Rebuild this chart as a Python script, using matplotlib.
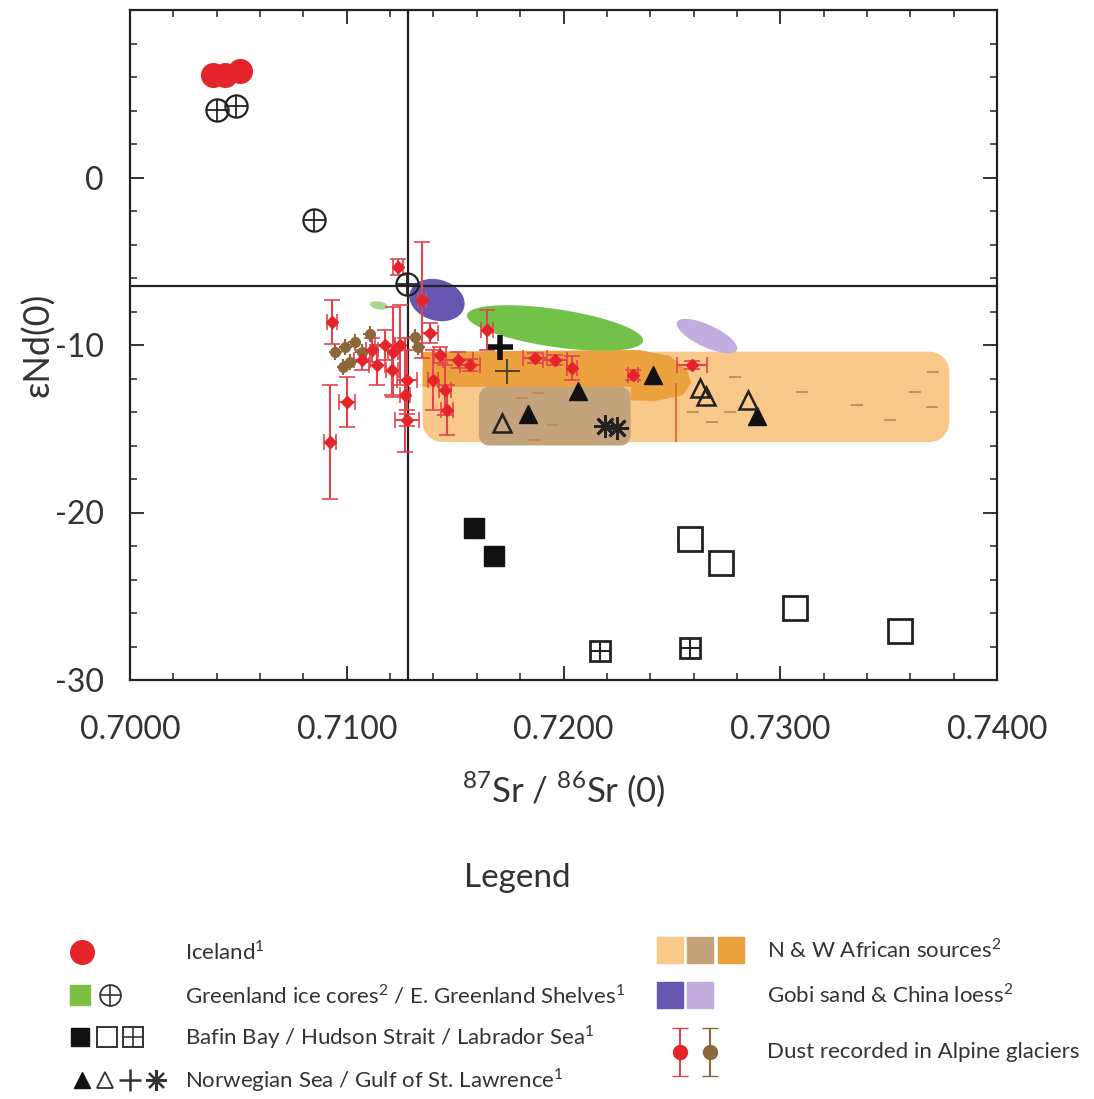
import numpy as np
import matplotlib
matplotlib.use('Agg')
import matplotlib.pyplot as plt
from matplotlib.patches import Polygon
from matplotlib.ticker import MultipleLocator

plt.rcParams['font.family'] = ['Lato', 'DejaVu Sans']
plt.rcParams['mathtext.fontset'] = 'custom'
plt.rcParams['mathtext.rm'] = 'Lato'
plt.rcParams['axes.unicode_minus'] = False

# reference lines (Sr ratio, eNd)
ref_sr = 0.71283
ref_nd = -6.45

# Iceland
iceland_sr = [0.70383, 0.70438, 0.70508]
iceland_nd = [6.12, 6.12, 6.36]

# E. Greenland shelves (circle plus)
egs_sr = [0.70401, 0.70489, 0.70849, 0.71278]
egs_nd = [4.03, 4.27, -2.54, -6.36]

# Bafin Bay / Hudson Strait / Labrador Sea
bafin_sr = [0.71587, 0.71679]
bafin_nd = [-20.93, -22.60]
hudson_sr = [0.72584, 0.72727, 0.73068, 0.73553]
hudson_nd = [-21.58, -23.01, -25.70, -27.07]
labrador_sr = [0.72168, 0.72584]
labrador_nd = [-28.27, -28.09]

# Norwegian Sea / Gulf of St. Lawrence
norw_filled_sr = [0.71836, 0.72067, 0.72413, 0.72893]
norw_filled_nd = [-14.12, -12.75, -11.79, -14.24]
norw_open_sr = [0.71716, 0.72630, 0.72657, 0.72851]
norw_open_nd = [-14.66, -12.57, -13.04, -13.28]
gulf_thick_sr = [0.71707]
gulf_thick_nd = [-10.12]
gulf_thin_sr = [0.71739]
gulf_thin_nd = [-11.55]
gulf_star_sr = [0.72191, 0.72247]
gulf_star_nd = [-14.84, -14.96]

# Alpine glacier dust (red) with errors
dust_sr = [0.70932, 0.71001, 0.70923, 0.71116, 0.71176, 0.71070, 0.71140, 0.71209,
           0.71213, 0.71246, 0.71269, 0.71278, 0.71278, 0.71347, 0.71384, 0.71236,
           0.71398, 0.71453, 0.71462, 0.71430, 0.71513, 0.71569, 0.71647, 0.71868,
           0.71961, 0.72039, 0.72321, 0.72593]
dust_nd = [-8.63, -13.40, -15.79, -10.30, -10.00, -10.90, -11.19, -11.49,
           -10.42, -10.00, -12.99, -14.48, -12.09, -7.31, -9.28, -5.34,
           -12.09, -12.69, -13.88, -10.60, -10.90, -11.19, -9.10, -10.78,
           -10.90, -11.37, -11.79, -11.19]
dust_sr_err = [0.00023, 0.00037, 0.00028, 0.00028, 0.00046, 0.00037, 0.00037, 0.00028,
               0.00023, 0.00023, 0.00023, 0.00055, 0.00046, 0.00018, 0.00037, 0.00023,
               0.00023, 0.00028, 0.00028, 0.00028, 0.00069, 0.00046, 0.00028, 0.00055,
               0.00055, 0.00023, 0.00023, 0.00069]
dust_nd_err = [1.31, 1.49, 3.40, 0.72, 0.90, 0.60, 1.19, 1.49,
               2.69, 2.39, 3.40, 0.36, 1.79, 3.46, 0.60, 0.48,
               1.79, 1.49, 1.49, 0.48, 0.48, 0.36, 1.19, 0.30,
               0.30, 0.72, 0.30, 0.24]
# single long error bar without a visible point
dust_bar_sr = 0.72519
dust_bar_nd = [-12.24, -15.82]

# Alpine glacier dust (brown)
brown_sr = [0.70992, 0.71038, 0.71070, 0.71015, 0.70983, 0.71107, 0.71315, 0.71329, 0.70946]
brown_nd = [-10.12, -9.82, -10.42, -11.01, -11.31, -9.34, -9.52, -10.12, -10.42]

# small African source samples (dashes)
afr_sr = [0.72791, 0.73100, 0.73354, 0.73506, 0.73622, 0.73705, 0.73700, 0.72685,
          0.72768, 0.71809, 0.71882, 0.71952, 0.71869, 0.72597]
afr_nd = [-11.91, -12.81, -13.58, -14.48, -12.81, -11.61, -13.70, -14.60,
          -14.00, -13.16, -12.87, -14.78, -15.67, -14.00]

# source fields: boxes (sr0, sr1, nd0, nd1) and ellipses (tip1, tip2, half-thickness)
afr_light_box = (0.7135, 0.7378, -10.4, -15.8)
afr_tan_box = (0.7161, 0.7231, -12.5, -16.0)
afr_dark_sr = [0.7135, 0.7235, 0.7249, 0.7257, 0.7259, 0.7255, 0.7242, 0.7231, 0.7231, 0.7135]
afr_dark_nd = [-10.4, -10.3, -10.65, -11.5, -12.25, -13.0, -13.35, -13.3, -12.5, -12.5]
greenland_ell = ((0.71555, -8.21), (0.72367, -9.76), 1.13)
gobi_ell = ((0.71292, -6.84), (0.71541, -7.79), 1.22)
loess_ell = ((0.72524, -8.63), (0.72800, -10.30), 0.66)
small_green_ell = ((0.71107, -7.55), (0.71190, -7.73), 0.24)

c_light = '#f9c98b'
c_tan = '#c4a27c'
c_dark = '#eba23e'
c_green = '#72c24a'
c_blue = '#6757b2'
c_lilac = '#c3ade0'
c_red = '#e5232b'
c_err = '#e2454d'
c_brown = '#8c673c'

fig = plt.figure(figsize=(10.94, 10.99), dpi=100)
ax = fig.add_axes([130 / 1094, 1 - 680 / 1099, 867 / 1094, 670 / 1099])
ax.set_xlim(0.700, 0.740)
ax.set_ylim(-30, 10)


def ellipse(ax, p1, p2, half, **kw):
    a = ax.transData.transform([p1, p2])
    c = a.mean(axis=0)
    d = a[1] - a[0]
    L = np.hypot(*d) / 2
    ang = np.arctan2(d[1], d[0])
    h = abs(np.diff(ax.transData.transform([(0, 0), (0, half)])[:, 1])[0])
    t = np.linspace(0, 2 * np.pi, 120)
    px = c[0] + L * np.cos(t) * np.cos(ang) - h * np.sin(t) * np.sin(ang)
    py = c[1] + L * np.cos(t) * np.sin(ang) + h * np.sin(t) * np.cos(ang)
    pts = ax.transData.inverted().transform(np.c_[px, py])
    return ax.add_patch(Polygon(pts, closed=True, **kw))


def rounded_box(ax, box, r, **kw):
    x0, x1, y0, y1 = box
    p = ax.transData.transform([(x0, y0), (x1, y1)])
    xa, xb = sorted(p[:, 0])
    ya, yb = sorted(p[:, 1])
    pts = []
    for cx, cy, a0 in [(xb - r, yb - r, 0), (xa + r, yb - r, 90),
                       (xa + r, ya + r, 180), (xb - r, ya + r, 270)]:
        t = np.radians(np.linspace(a0, a0 + 90, 12))
        pts.append(np.c_[cx + r * np.cos(t), cy + r * np.sin(t)])
    pts = ax.transData.inverted().transform(np.vstack(pts))
    return ax.add_patch(Polygon(pts, closed=True, **kw))


# source fields
rounded_box(ax, afr_light_box, 20, fc=c_light, ec='none', zorder=1)
ax.add_patch(Polygon(np.c_[afr_dark_sr, afr_dark_nd], closed=True, fc=c_dark, ec='none', zorder=2))
rounded_box(ax, afr_tan_box, 10, fc=c_tan, ec='none', zorder=3)
ellipse(ax, *greenland_ell, fc=c_green, ec='none', zorder=3)
ellipse(ax, *gobi_ell, fc=c_blue, ec='none', zorder=3)
ellipse(ax, *loess_ell, fc=c_lilac, ec='none', zorder=3)
ellipse(ax, *small_green_ell, fc='#a8d890', ec='none', zorder=3)
ax.plot(afr_sr, afr_nd, ls='none', marker='_', ms=8, mew=1.2, color='#b8874e', zorder=4)

# reference lines
ax.axvline(ref_sr, color='#222222', lw=1.6, zorder=4)
ax.axhline(ref_nd, color='#222222', lw=1.6, zorder=4)

# alpine dust
ax.vlines(dust_bar_sr, dust_bar_nd[0], dust_bar_nd[1], color='#e0703a', lw=1.5, zorder=4)
ax.errorbar(brown_sr, brown_nd, xerr=0.0003, yerr=0.5, fmt='o', ms=7, color=c_brown,
            ecolor=c_brown, elinewidth=1.5, capsize=0, zorder=5)
ax.errorbar(dust_sr, dust_nd, xerr=dust_sr_err, yerr=dust_nd_err, fmt='D', ms=6.5,
            color=c_red, ecolor=c_err, elinewidth=1.5, capsize=6, capthick=1.2, zorder=5)

# Iceland
ax.plot(iceland_sr, iceland_nd, 'o', ms=17, color=c_red, zorder=6)
# Greenland shelves
ax.plot(egs_sr, egs_nd, 'o', ms=16, mfc='none', mec='#222222', mew=1.6, zorder=7)
ax.plot(egs_sr, egs_nd, '+', ms=16, color='#222222', mew=1.3, zorder=7)
# Bafin / Hudson / Labrador
ax.plot(bafin_sr, bafin_nd, 's', ms=14, color='#111111', zorder=6)
ax.plot(hudson_sr, hudson_nd, 's', ms=17, mfc='none', mec='#222222', mew=2, zorder=6)
ax.plot(labrador_sr, labrador_nd, 's', ms=15, mfc='none', mec='#222222', mew=2, zorder=6)
ax.plot(labrador_sr, labrador_nd, '+', ms=15, color='#222222', mew=1.5, zorder=6)
# Norwegian Sea / Gulf of St. Lawrence
ax.plot(norw_filled_sr, norw_filled_nd, '^', ms=13, color='#111111', zorder=6)
ax.plot(norw_open_sr, norw_open_nd, '^', ms=13, mfc='none', mec='#222222', mew=1.8, zorder=6)
ax.plot(gulf_thick_sr, gulf_thick_nd, '+', ms=18, color='#111111', mew=4, zorder=6)
ax.plot(gulf_thin_sr, gulf_thin_nd, '+', ms=18, color='#4a4030', mew=1.4, zorder=6)
ax.plot(gulf_star_sr, gulf_star_nd, ls='none', marker=(8, 2, 0), ms=16, color='#222222', mew=2, zorder=6)

# axes styling
for s in ax.spines.values():
    s.set_linewidth(1.6)
    s.set_color('#222222')
ax.xaxis.set_major_locator(MultipleLocator(0.01))
ax.xaxis.set_minor_locator(MultipleLocator(0.002))
ax.yaxis.set_major_locator(MultipleLocator(10))
ax.yaxis.set_minor_locator(MultipleLocator(2))
ax.tick_params(which='both', direction='in', top=True, right=True, color='#222222')
ax.tick_params(which='major', length=10, width=1.3, labelsize=23, labelcolor='#333333')
ax.tick_params(which='minor', length=5, width=1.1)
ax.tick_params(axis='x', which='major', pad=25)
ax.tick_params(axis='y', which='major', pad=19)
ax.set_xticks([0.70, 0.71, 0.72, 0.73, 0.74])
ax.set_xticklabels(['0.7000', '0.7100', '0.7200', '0.7300', '0.7400'])
ax.set_yticks([-30, -20, -10, 0])
ax.set_yticklabels(['-30', '-20', '-10', '0'])
ax.set_xlabel(r'$^{87}$Sr / $^{86}$Sr (0)', fontsize=25, color='#333333', labelpad=18)
ax.set_ylabel('εNd(0)', fontsize=26, color='#333333', labelpad=0)

# legend block drawn in pixel coordinates
lax = fig.add_axes([0, 0, 1, 1], zorder=-1)
lax.set_xlim(0, 1094)
lax.set_ylim(1099, 0)
lax.axis('off')
lax.text(517, 878, 'Legend', fontsize=24, color='#333333', ha='center', va='center')

tk = dict(fontsize=16, color='#333333', va='center', ha='left')
rows_left = [952, 995, 1037, 1080]
lax.plot(82, rows_left[0], 'o', ms=17, color=c_red)
lax.plot(80, rows_left[1], 's', ms=14, color='#7cc043')
lax.plot(110, rows_left[1], 'o', ms=15, mfc='none', mec='#333333', mew=1.3)
lax.plot(110, rows_left[1], '+', ms=15, color='#333333', mew=1.2)
lax.plot(80, rows_left[2], 's', ms=13, color='#111111')
lax.plot(107, rows_left[2], 's', ms=14, mfc='none', mec='#333333', mew=1.4)
lax.plot(133, rows_left[2], 's', ms=14, mfc='none', mec='#333333', mew=1.4)
lax.plot(133, rows_left[2], '+', ms=14, color='#333333', mew=1.2)
lax.plot(82, rows_left[3], '^', ms=12, color='#111111')
lax.plot(105, rows_left[3], '^', ms=12, mfc='none', mec='#333333', mew=1.3)
lax.plot(130, rows_left[3], '+', ms=16, color='#333333', mew=1.8)
lax.plot(156, rows_left[3], ls='none', marker=(8, 2, 0), ms=15, color='#333333', mew=1.6)
lax.text(185, rows_left[0], r'Iceland$^1$', **tk)
lax.text(185, rows_left[1], r'Greenland ice cores$^2$ / E. Greenland Shelves$^1$', **tk)
lax.text(185, rows_left[2], r'Bafin Bay / Hudson Strait / Labrador Sea$^1$', **tk)
lax.text(185, rows_left[3], r'Norwegian Sea / Gulf of St. Lawrence$^1$', **tk)

rows_right = [950, 995, 1052]
for xx, cc in zip([670, 700, 731], [c_light, c_tan, c_dark]):
    lax.plot(xx, rows_right[0], 's', ms=19, color=cc)
for xx, cc in zip([670, 700], [c_blue, c_lilac]):
    lax.plot(xx, rows_right[1], 's', ms=19, color=cc)
lax.errorbar(680, rows_right[2], yerr=24, fmt='o', ms=10, color=c_red, ecolor=c_err,
             elinewidth=1.5, capsize=6)
lax.errorbar(710, rows_right[2], yerr=24, fmt='o', ms=10, color=c_brown, ecolor=c_brown,
             elinewidth=1.5, capsize=6)
lax.text(767, rows_right[0], r'N & W African sources$^2$', **tk)
lax.text(767, rows_right[1], r'Gobi sand & China loess$^2$', **tk)
lax.text(767, rows_right[2], 'Dust recorded in Alpine glaciers', **tk)

fig.savefig('out.png', dpi=100)
